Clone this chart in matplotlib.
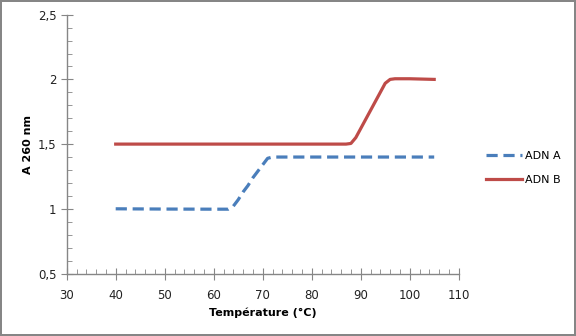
import matplotlib
matplotlib.use("Agg")
import matplotlib.pyplot as plt
from matplotlib.ticker import MultipleLocator, FuncFormatter

# ADN A : dashed blue curve
temp_a = [40, 50, 60, 63, 64, 65, 66, 67, 68, 69, 70, 71, 72, 80, 90, 100, 105]
abs_a = [1.0, 0.998, 0.997, 0.997, 1.02, 1.07, 1.13, 1.18, 1.24, 1.29, 1.34, 1.39, 1.40, 1.40, 1.40, 1.40, 1.40]

# ADN B : solid red curve
temp_b = [40, 50, 60, 70, 80, 87, 88, 89, 90, 91, 92, 93, 94, 95, 96, 97, 100, 105]
abs_b = [1.5, 1.5, 1.5, 1.5, 1.5, 1.5, 1.505, 1.55, 1.62, 1.69, 1.76, 1.83, 1.90, 1.97, 2.0, 2.005, 2.005, 2.0]

x_ticks = [30, 40, 50, 60, 70, 80, 90, 100, 110]
y_ticks = [0.5, 1, 1.5, 2, 2.5]

plt.rcParams['font.family'] = ['DejaVu Sans']

fig = plt.figure(figsize=(5.76, 3.36), dpi=100)
fig.patch.set_edgecolor('#868686')
fig.patch.set_linewidth(1.5)
ax = fig.add_axes([66.7 / 576, 1 - 273.5 / 336, (458.7 - 66.7) / 576, (273.5 - 14.7) / 336])

ax.plot(temp_a, abs_a, color='#4A7EBB', lw=2.3, ls=(0, (3.5, 1.8)), label='ADN A')
ax.plot(temp_b, abs_b, color='#BE4B48', lw=2.3, label='ADN B', solid_joinstyle='round')

ax.set_xlim(30, 110)
ax.set_ylim(0.5, 2.5)
ax.set_xticks(x_ticks)
ax.set_yticks(y_ticks)
ax.xaxis.set_minor_locator(MultipleLocator(2))
ax.yaxis.set_minor_locator(MultipleLocator(0.1))
fmt = FuncFormatter(lambda v, p: ('%g' % v).replace('.', ','))
ax.yaxis.set_major_formatter(fmt)

for s in ['top', 'right']:
    ax.spines[s].set_visible(False)
for s in ['left', 'bottom']:
    ax.spines[s].set_color('#868686')
    ax.spines[s].set_linewidth(1)
ax.tick_params(which='major', direction='inout', length=8, color='#868686', labelsize=8.5, labelcolor='#222222')
ax.tick_params(which='minor', direction='in', length=3.5, color='#868686')
ax.tick_params(axis='x', pad=7)

ax.set_xlabel('Température (°C)', fontsize=8, fontweight='bold', labelpad=4)
ax.set_ylabel('A 260 nm', fontsize=8, fontweight='bold', labelpad=3)

fig.legend(loc='center left', bbox_to_anchor=(486 / 576, 1 - 168 / 336), frameon=False, fontsize=8,
           handlelength=3.2, labelspacing=1.2, handletextpad=0.3, borderpad=0, borderaxespad=0)

fig.savefig('out.png', dpi=100)
